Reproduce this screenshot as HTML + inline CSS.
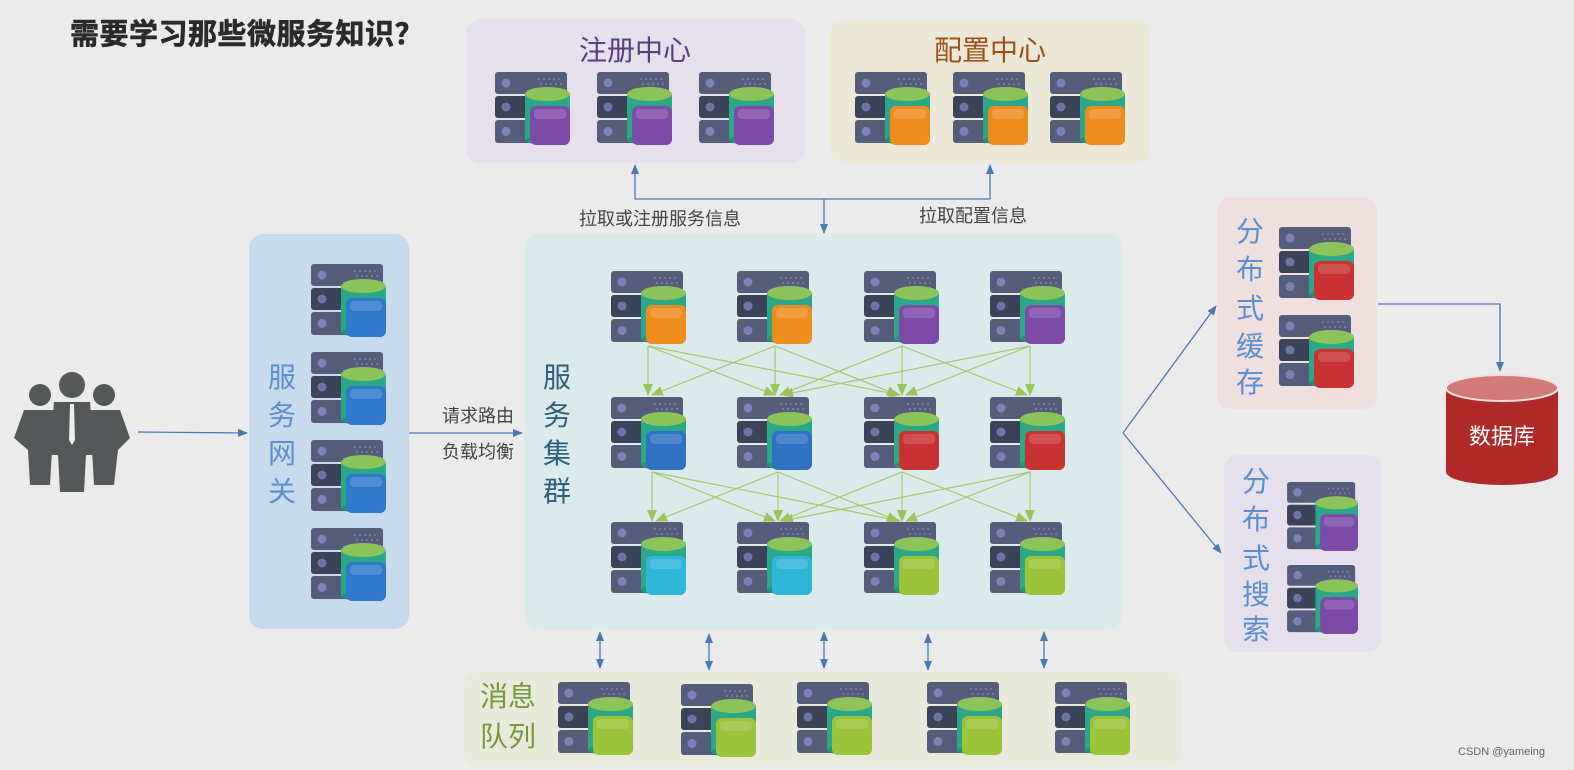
<!DOCTYPE html>
<html><head><meta charset="utf-8"><style>
html,body{margin:0;padding:0;background:#ebebeb;}
svg{display:block;font-family:"Liberation Sans","Noto Sans CJK SC",sans-serif;}
</style></head><body>
<svg width="1574" height="770" viewBox="0 0 1574 770" xmlns="http://www.w3.org/2000/svg">
<defs>
<symbol id="srv" viewBox="0 0 76 74">
  <rect x="0" y="0" width="72" height="22" rx="3" fill="#555d7a"/>
  <rect x="0" y="24" width="72" height="22" rx="3" fill="#3c4258"/>
  <rect x="0" y="48" width="72" height="23" rx="3" fill="#555d7a"/>
  <circle cx="11" cy="11" r="4.5" fill="#7c82b8"/>
  <circle cx="11" cy="35" r="4.5" fill="#6e74a8"/>
  <circle cx="11" cy="59.5" r="4.5" fill="#7c82b8"/>
  <g fill="#7c82b8"><circle cx="44" cy="7" r="1"/><circle cx="49" cy="7" r="1"/><circle cx="54" cy="7" r="1"/><circle cx="59" cy="7" r="1"/><circle cx="64" cy="7" r="1"/><circle cx="46" cy="12" r="1"/><circle cx="51" cy="12" r="1"/><circle cx="56" cy="12" r="1"/><circle cx="61" cy="12" r="1"/><circle cx="66" cy="12" r="1"/></g>
  <rect x="30" y="22" width="45" height="46" fill="#2aa888"/>
  <ellipse cx="52.5" cy="68" rx="22.5" ry="5" fill="#229478"/>
  <ellipse cx="52.5" cy="22" rx="22.5" ry="7" fill="#8cc45a"/>
  <rect x="35" y="34" width="40" height="39" rx="6"/>
  <rect x="39" y="37" width="32" height="10" rx="4" fill="#fff" opacity="0.15"/>
</symbol>
<marker id="ab" markerWidth="10" markerHeight="10" refX="9" refY="5" orient="auto" markerUnits="userSpaceOnUse"><path d="M0,1 L10,5 L0,9 z" fill="#4a78b5"/></marker>
<marker id="as" markerWidth="10" markerHeight="10" refX="9" refY="5" orient="auto-start-reverse" markerUnits="userSpaceOnUse"><path d="M0,1 L10,5 L0,9 z" fill="#4a78b5"/></marker>
<marker id="ag" markerWidth="12" markerHeight="12" refX="11" refY="6" orient="auto" markerUnits="userSpaceOnUse"><path d="M0,1 L12,6 L0,11 z" fill="#9cc45a"/></marker>
</defs>

<text x="70" y="44" font-size="29" font-weight="bold" fill="#2a2a2a" stroke="#2a2a2a" stroke-width="0.6" letter-spacing="0.5">需要学习那些微服务知识？</text>

<!-- panels -->
<rect x="466" y="19" width="339" height="144" rx="14" fill="#e5e0ec"/>
<rect x="830" y="19" width="320" height="144" rx="14" fill="#ece9d9"/>
<rect x="249" y="234" width="160" height="395" rx="14" fill="#c8dbec"/>
<rect x="525" y="234" width="597" height="395" rx="14" fill="#dbeaea"/>
<rect x="1217" y="197" width="160" height="212" rx="14" fill="#efe0df"/>
<rect x="1224" y="455" width="158" height="197" rx="14" fill="#e5e0ec"/>
<rect x="464" y="672" width="718" height="95" rx="14" fill="#e8eadb"/>

<text x="635" y="60" font-size="28" fill="#5a3d80" text-anchor="middle">注册中心</text>
<text x="990" y="60" font-size="28" fill="#a04f1a" text-anchor="middle">配置中心</text>

<g font-size="28" fill="#5b8fd0" text-anchor="middle">
<text x="282" y="387">服</text><text x="282" y="425">务</text><text x="282" y="463">网</text><text x="282" y="501">关</text>
<text x="1250" y="241">分</text><text x="1250" y="279">布</text><text x="1250" y="318">式</text><text x="1250" y="356">缓</text><text x="1250" y="392">存</text>
<text x="1256" y="491">分</text><text x="1256" y="529">布</text><text x="1256" y="568">式</text><text x="1256" y="604">搜</text><text x="1256" y="639">索</text>
</g>
<g font-size="28" fill="#2f5f7a" text-anchor="middle">
<text x="557" y="387">服</text><text x="557" y="425">务</text><text x="557" y="463">集</text><text x="557" y="501">群</text>
</g>
<text x="480" y="706" font-size="28" fill="#78983a">消息</text>
<text x="480" y="746" font-size="28" fill="#78983a">队列</text>

<!-- people -->
<g fill="#555858">
 <circle cx="40" cy="395" r="11"/><path d="M24,410 L56,410 L60,450 L52,450 L50,485 L30,485 L28,450 L14,438 z"/>
 <circle cx="104" cy="395" r="11"/><path d="M88,410 L120,410 L130,438 L118,450 L114,485 L94,485 L92,450 L84,450 z"/>
 <circle cx="72" cy="385" r="13"/><path d="M54,402 L90,402 L94,455 L86,455 L84,492 L60,492 L58,455 L50,455 z"/>
 <path d="M70,404 L74,404 L75,440 L72,445 L69,440 z" fill="#eee"/>
</g>

<!-- blue arrows -->
<g stroke="#4a78b5" stroke-width="1.3" fill="none">
<line x1="138" y1="432" x2="247" y2="433" marker-end="url(#ab)"/>
<line x1="409" y1="433" x2="522" y2="433" marker-end="url(#ab)"/>
<polyline points="635,199 635,165"  marker-end="url(#ab)"/>
<line x1="635" y1="199" x2="990" y2="199"/>
<polyline points="990,199 990,165" marker-end="url(#ab)"/>
<line x1="824" y1="199" x2="824" y2="233" marker-end="url(#ab)"/>
<line x1="1123" y1="433" x2="1216" y2="306" marker-end="url(#ab)"/>
<line x1="1123" y1="433" x2="1221" y2="553" marker-end="url(#ab)"/>
<polyline points="1378,304 1500,304 1500,371" marker-end="url(#ab)"/>
<line x1="600" y1="632" x2="600" y2="668" marker-start="url(#as)" marker-end="url(#ab)"/>
<line x1="709" y1="634" x2="709" y2="670" marker-start="url(#as)" marker-end="url(#ab)"/>
<line x1="824" y1="632" x2="824" y2="668" marker-start="url(#as)" marker-end="url(#ab)"/>
<line x1="928" y1="634" x2="928" y2="670" marker-start="url(#as)" marker-end="url(#ab)"/>
<line x1="1044" y1="632" x2="1044" y2="668" marker-start="url(#as)" marker-end="url(#ab)"/>
</g>
<g font-size="18" fill="#444">
<text x="660" y="225" text-anchor="middle">拉取或注册服务信息</text>
<text x="973" y="222" text-anchor="middle">拉取配置信息</text>
<text x="478" y="422" text-anchor="middle">请求路由</text>
<text x="478" y="458" text-anchor="middle">负载均衡</text>
</g>

<!-- green mesh -->
<g stroke="#a8c870" stroke-width="1.2" fill="none" marker-end="url(#ag)">
<line x1="648" y1="346" x2="648" y2="395"/><line x1="648" y1="346" x2="775" y2="395"/><line x1="648" y1="346" x2="900" y2="395"/>
<line x1="775" y1="346" x2="652" y2="395"/><line x1="775" y1="346" x2="775" y2="395"/><line x1="775" y1="346" x2="898" y2="395"/>
<line x1="902" y1="346" x2="780" y2="395"/><line x1="902" y1="346" x2="902" y2="395"/><line x1="902" y1="346" x2="1027" y2="395"/>
<line x1="1030" y1="346" x2="782" y2="395"/><line x1="1030" y1="346" x2="906" y2="395"/><line x1="1030" y1="346" x2="1030" y2="395"/>
<line x1="652" y1="472" x2="652" y2="521"/><line x1="652" y1="472" x2="775" y2="521"/><line x1="652" y1="472" x2="900" y2="521"/>
<line x1="778" y1="472" x2="656" y2="521"/><line x1="778" y1="472" x2="778" y2="521"/><line x1="778" y1="472" x2="898" y2="521"/>
<line x1="902" y1="472" x2="780" y2="521"/><line x1="902" y1="472" x2="902" y2="521"/><line x1="902" y1="472" x2="1027" y2="521"/>
<line x1="1030" y1="472" x2="782" y2="521"/><line x1="1030" y1="472" x2="906" y2="521"/><line x1="1030" y1="472" x2="1030" y2="521"/>
</g>

<!-- servers -->
<g>
<use href="#srv" x="495" y="72" width="76" height="74" fill="#7d4aa8"/>
<use href="#srv" x="597" y="72" width="76" height="74" fill="#7d4aa8"/>
<use href="#srv" x="699" y="72" width="76" height="74" fill="#7d4aa8"/>
<use href="#srv" x="855" y="72" width="76" height="74" fill="#ee8c1e"/>
<use href="#srv" x="953" y="72" width="76" height="74" fill="#ee8c1e"/>
<use href="#srv" x="1050" y="72" width="76" height="74" fill="#ee8c1e"/>

<use href="#srv" x="311" y="264" width="76" height="74" fill="#2f78cc"/>
<use href="#srv" x="311" y="352" width="76" height="74" fill="#2f78cc"/>
<use href="#srv" x="311" y="440" width="76" height="74" fill="#2f78cc"/>
<use href="#srv" x="311" y="528" width="76" height="74" fill="#2f78cc"/>

<use href="#srv" x="611" y="271" width="76" height="74" fill="#ee8c1e"/>
<use href="#srv" x="737" y="271" width="76" height="74" fill="#ee8c1e"/>
<use href="#srv" x="864" y="271" width="76" height="74" fill="#7d4aa8"/>
<use href="#srv" x="990" y="271" width="76" height="74" fill="#7d4aa8"/>
<use href="#srv" x="611" y="397" width="76" height="74" fill="#2f72c4"/>
<use href="#srv" x="737" y="397" width="76" height="74" fill="#2f72c4"/>
<use href="#srv" x="864" y="397" width="76" height="74" fill="#c83232"/>
<use href="#srv" x="990" y="397" width="76" height="74" fill="#c83232"/>
<use href="#srv" x="611" y="522" width="76" height="74" fill="#2fb6d8"/>
<use href="#srv" x="737" y="522" width="76" height="74" fill="#2fb6d8"/>
<use href="#srv" x="864" y="522" width="76" height="74" fill="#9cc43a"/>
<use href="#srv" x="990" y="522" width="76" height="74" fill="#9cc43a"/>

<use href="#srv" x="1279" y="227" width="76" height="74" fill="#c83232"/>
<use href="#srv" x="1279" y="315" width="76" height="74" fill="#c83232"/>
<use href="#srv" x="1285" y="482" width="76" height="70" fill="#7d4aa8"/>
<use href="#srv" x="1285" y="565" width="76" height="70" fill="#7d4aa8"/>

<use href="#srv" x="558" y="682" width="76" height="74" fill="#9cc43a"/>
<use href="#srv" x="681" y="684" width="76" height="74" fill="#9cc43a"/>
<use href="#srv" x="797" y="682" width="76" height="74" fill="#9cc43a"/>
<use href="#srv" x="927" y="682" width="76" height="74" fill="#9cc43a"/>
<use href="#srv" x="1055" y="682" width="76" height="74" fill="#9cc43a"/>
</g>

<!-- database -->
<path d="M1446,388 L1446,472 A56,13 0 0 0 1558,472 L1558,388 z" fill="#b02a2a"/>
<ellipse cx="1502" cy="388" rx="56" ry="13" fill="#d27a78" stroke="#f0e0e0" stroke-width="2"/>
<text x="1502" y="444" font-size="22" fill="#fff" text-anchor="middle">数据库</text>

<text x="1458" y="755" font-size="11" fill="#666">CSDN @yameing</text>
</svg>
</body></html>
